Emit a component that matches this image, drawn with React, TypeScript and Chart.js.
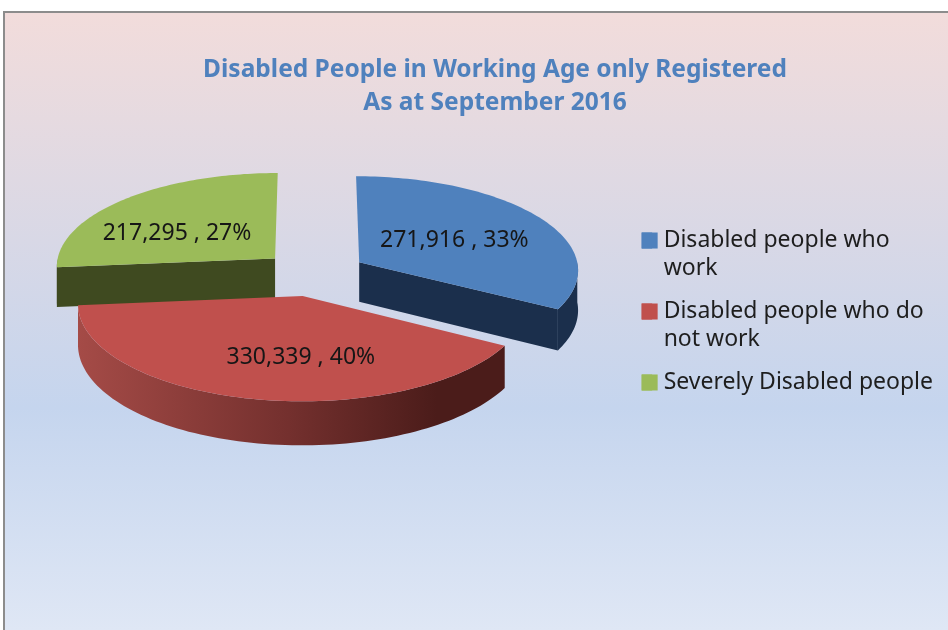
import React, { useEffect, useRef } from "react";
import { Chart, registerables } from "chart.js";

Chart.register(...registerables);

const categories = [
  ["Disabled people who", "work"],
  ["Disabled people who do", "not work"],
  ["Severely Disabled people"],
];
const values = [271916, 330339, 217295];
const titleLines = ["Disabled People in Working Age only Registered", "As at September 2016"];
const topColors = ["#4f81bd", "#c0504d", "#9bbb59"];
const sideColors = ["#1b2f4c", "#74302e", "#3f4a20"];
const labelAlong = [0.47, 0.62, 0.51];
const labelShiftX = [9, 29, -19];
const labelShiftY = [0, 0, 6];
const drawOrder = [2, 0, 1];

const FONT = '"Noto Sans", sans-serif';
const TILT = 0.427;
const PERSPECTIVE = 0.000338;
const DEPTH = 40;
const SHIFT_X = -23;
const SHIFT_Y = -103;
const LEGEND_BOX = 16;

function tracePath(ctx: any, pts: number[][]) {
  ctx.beginPath();
  pts.forEach((p, k) => (k ? ctx.lineTo(p[0], p[1]) : ctx.moveTo(p[0], p[1])));
  ctx.closePath();
}

const pie3d = {
  id: "pie3d",
  beforeDatasetDraw(chart: any) {
    const ctx = chart.ctx;
    const arcs = chart.getDatasetMeta(0).data;
    for (const i of drawOrder) {
      const arc = arcs[i];
      const { shape, project } = geometry(arc);
      const top = shape.map((p: number[]) => project(p[0], p[1], 0));
      const bottom = shape.map((p: number[]) => project(p[0], p[1], DEPTH));
      const n = shape.length;
      let side: any = sideColors[i];
      if (i === 1) {
        const g = ctx.createLinearGradient(77, 0, 500, 0);
        g.addColorStop(0, "#a54b47");
        g.addColorStop(0.5, "#74302e");
        g.addColorStop(0.85, "#4b1c1a");
        g.addColorStop(1, "#4b1c1a");
        side = g;
      }
      ctx.fillStyle = side;
      // radial walls, only those turned towards the viewer
      if (Math.cos(arc.startAngle) < -0.01) {
        tracePath(ctx, [top[0], top[1], bottom[1], bottom[0]]);
        ctx.fill();
      }
      if (Math.cos(arc.endAngle) > 0.01) {
        tracePath(ctx, [top[0], top[n - 1], bottom[n - 1], bottom[0]]);
        ctx.fill();
      }
      // curved rim, front half only
      const front = shape.map((_: number[], k: number) => k).filter((k: number) => k > 0 && shape[k][1] >= 0);
      tracePath(ctx, [...front.map((k: number) => top[k]), ...front.map((k: number) => bottom[k]).reverse()]);
      ctx.fill();
      // top face
      ctx.fillStyle = arc.options.backgroundColor;
      tracePath(ctx, top);
      ctx.fill();
    }
    return false;
  },
  afterDatasetsDraw(chart: any) {
    const ctx = chart.ctx;
    const arcs = chart.getDatasetMeta(0).data;
    const total = values.reduce((a, b) => a + b, 0);
    ctx.save();
    ctx.font = `23px ${FONT}`;
    ctx.fillStyle = "#161616";
    ctx.textAlign = "center";
    ctx.textBaseline = "middle";
    arcs.forEach((arc: any, i: number) => {
      const { project } = geometry(arc);
      const mid = (arc.startAngle + arc.endAngle) / 2;
      const r = arc.outerRadius * labelAlong[i];
      const p = project(Math.cos(mid) * r, Math.sin(mid) * r, 0);
      const text = `${values[i].toLocaleString("en-US")} , ${Math.round((values[i] / total) * 100)}%`;
      ctx.fillText(text, p[0] + labelShiftX[i], p[1] + labelShiftY[i]);
    });
    ctx.restore();
  },
  afterDraw(chart: any) {
    // legend swatches sit closer to their text than the library's spacing allows
    const ctx = chart.ctx;
    const hit = chart.legend.legendHitBoxes;
    ctx.save();
    hit.forEach((b: any, i: number) => {
      ctx.fillStyle = topColors[i];
      ctx.fillRect(b.left, b.top + 3.5, LEGEND_BOX, LEGEND_BOX);
    });
    ctx.restore();
  },
};

function geometry(arc: any) {
  const mid = (arc.startAngle + arc.endAngle) / 2;
  const off = (arc.options.offset || 0) / 4;
  const ox = Math.cos(mid) * off;
  const oy = Math.sin(mid) * off;
  const cx = arc.x + SHIFT_X;
  const cy = arc.y + SHIFT_Y;
  const project = (u: number, v: number, h: number) => {
    const uu = u + ox;
    const vv = v + oy;
    const p = 1 / (1 - PERSPECTIVE * vv);
    return [cx + uu * p, cy + TILT * vv * p + h * p];
  };
  const shape: number[][] = [[0, 0]];
  const steps = 90;
  for (let s = 0; s <= steps; s++) {
    const a = arc.startAngle + ((arc.endAngle - arc.startAngle) * s) / steps;
    shape.push([Math.cos(a) * arc.outerRadius, Math.sin(a) * arc.outerRadius]);
  }
  return { shape, project };
}

export default function App() {
  const ref = useRef<HTMLCanvasElement>(null);
  useEffect(() => {
    const chart = new Chart(ref.current as HTMLCanvasElement, {
      type: "pie",
      data: {
        labels: categories as any,
        datasets: [{ data: values, backgroundColor: topColors, borderWidth: 0, offset: 212 }],
      },
      options: {
        responsive: false,
        animation: false,
        radius: 220,
        layout: { padding: { left: 47, right: 5, top: 12, bottom: 14 } },
        plugins: {
          title: {
            display: true,
            text: titleLines,
            color: "#4f81bd",
            font: { family: FONT, size: 24.5, weight: "bold", lineHeight: 1.347 },
            padding: { top: 42, bottom: 17 },
          },
          legend: {
            position: "right",
            labels: {
              boxWidth: 10.5,
              boxHeight: LEGEND_BOX,
              padding: 15,
              color: "#1e1e1e",
              font: { family: FONT, size: 23, lineHeight: 1.217 },
            },
          },
          tooltip: { enabled: false },
        },
      } as any,
      plugins: [pie3d as any],
    });
    return () => chart.destroy();
  }, []);
  return (
    <div style={{ position: "fixed", left: 0, top: 0, width: 948, height: 630, background: "#fff", overflow: "hidden" }}>
      <div
        style={{
          position: "absolute",
          left: 3,
          top: 11,
          width: 945,
          height: 619,
          boxSizing: "border-box",
          borderTop: "2px solid #8c8c8c",
          borderLeft: "2px solid #8c8c8c",
          background: "linear-gradient(180deg, #f2dcdb 0%, #c5d5ee 64%, #dfe7f5 100%)",
        }}
      />
      <canvas ref={ref} width={948} height={630} style={{ position: "absolute", left: 0, top: 0, display: "block" }} />
    </div>
  );
}
